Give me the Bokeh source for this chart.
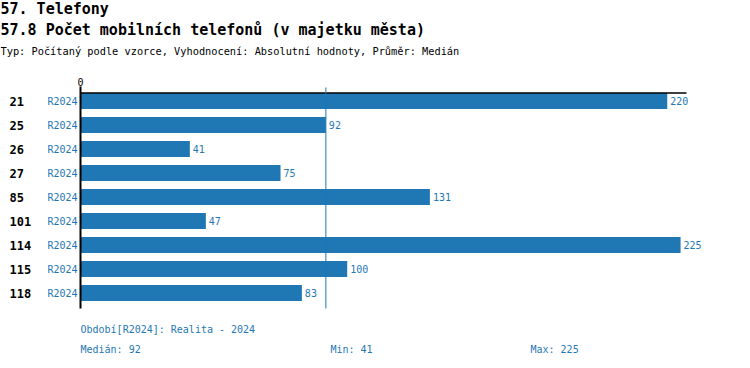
import numpy as np
from bokeh.plotting import figure
from bokeh.models import ColumnDataSource, Range1d, Label, LabelSet
from bokeh.core.properties import value
from bokeh.embed import file_html
from bokeh.resources import INLINE

# ---- data ----
categories = ["21", "25", "26", "27", "85", "101", "114", "115", "118"]
periods = ["R2024"] * 9
values = [220, 92, 41, 75, 131, 47, 225, 100, 83]
title1 = "57. Telefony"
title2 = "57.8 Počet mobilních telefonů (v majetku města)"
subtitle = "Typ: Počítaný podle vzorce, Vyhodnocení: Absolutní hodnoty, Průměr: Medián"
period_note = "Období[R2024]: Realita - 2024"

median_v = float(np.median(values))
min_v = min(values)
max_v = max(values)

BLUE = "#1f77b4"
MONO = "DejaVu Sans Mono"

# ---- layout (pixels) ----
W, H = 742, 360
X0 = 80            # pixel of value 0
PPU = 2.667        # pixels per unit
ROW0 = 100.5       # pixel centre of first row
ROWH = 24.0        # row pitch

def row_at(py):
    return (py - ROW0) / ROWH

idx = list(range(len(categories)))
src = ColumnDataSource(dict(y=idx, v=values, cat=categories, per=periods,
                            vlab=[str(v) for v in values]))

p = figure(width=W, height=H, output_backend="svg", toolbar_location=None,
           x_range=Range1d(-X0 / PPU, (W - X0) / PPU),
           y_range=Range1d(row_at(H), row_at(0)),
           x_axis_type=None, y_axis_type=None,
           min_border=0, min_border_left=0, min_border_right=0,
           min_border_top=0, min_border_bottom=0)
p.outline_line_color = None
p.xgrid.visible = False
p.ygrid.visible = False

x_end = (686 - X0) / PPU
p.hbar(y="y", right="v", left=0, height=16 / ROWH, source=src,
       fill_color=BLUE, line_color=None)

# axis lines and median line
p.segment(x0=[0], y0=[row_at(92.5)], x1=[x_end], y1=[row_at(92.5)],
          line_color="black", line_width=1.5)
p.segment(x0=[0], y0=[row_at(86)], x1=[0], y1=[row_at(308)],
          line_color="black", line_width=2)
p.segment(x0=[median_v], y0=[row_at(87)], x1=[median_v], y1=[row_at(308)],
          line_color=BLUE, line_width=1)

p.add_layout(Label(x=0, y=row_at(81), text="0", text_font=MONO, text_font_size="10px",
                   text_color="black", text_align="center", text_baseline="middle"))

p.add_layout(LabelSet(x="v", y="y", text="vlab", source=src, x_offset=3,
                      text_font=value(MONO), text_font_size=value("10px"),
                      text_color=BLUE, text_align="left", text_baseline="middle"))
p.add_layout(LabelSet(x=9, y="y", x_units="screen", text="cat", source=src,
                      text_font=value(MONO), text_font_size=value("12px"),
                      text_font_style="bold", text_color="black",
                      text_align="left", text_baseline="middle"))
p.add_layout(LabelSet(x=77, y="y", x_units="screen", text="per", source=src,
                      text_font=value(MONO), text_font_size=value("10px"),
                      text_color=BLUE, text_align="right", text_baseline="middle"))

def lab(txt, x, cy, size, color="black", bold=False):
    p.add_layout(Label(x=x, y=H - cy, x_units="screen", y_units="screen", text=txt,
                       text_font=MONO, text_font_size=size, text_color=color,
                       text_font_style="bold" if bold else "normal",
                       text_align="left", text_baseline="middle"))

lab(title1, 0, 8, "15px", bold=True)
lab(title2, 0, 29, "15px", bold=True)
lab(subtitle, 0, 50, "10.3px")
lab(period_note, 80, 329, "10px", BLUE)
lab(f"Medián: {median_v:g}", 80, 349, "10px", BLUE)
lab(f"Min: {min_v}", 330, 349, "10px", BLUE)
lab(f"Max: {max_v}", 530, 349, "10px", BLUE)

open("out.html", "w").write(file_html(p, INLINE))
